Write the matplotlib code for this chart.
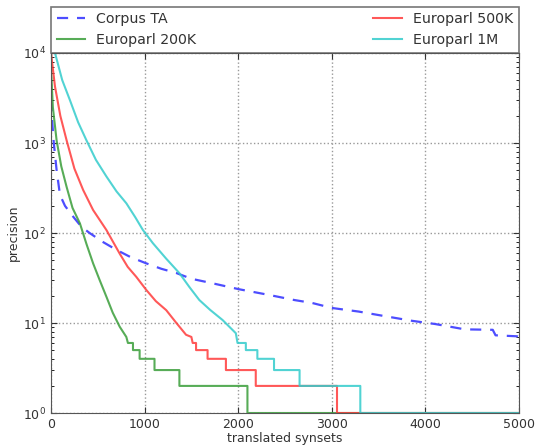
import numpy as np
import matplotlib
matplotlib.use('Agg')
import matplotlib.pyplot as plt

# Corpus TA: smooth decreasing curve
corpus_x = [0, 10, 30, 60, 96, 150, 237, 326, 415, 550, 699, 850, 1018, 1180, 1337,
            1500, 1700, 2011, 2330, 2600, 2790, 3000, 3287, 3550, 3851, 4103, 4422,
            4720, 4750, 5000]
corpus_y = [3000, 1900, 1000, 500, 265, 200, 152, 117, 99.6, 80, 65, 54, 46, 40, 36,
            31, 28, 23.7, 20.5, 18, 16.7, 14.7, 13.4, 12, 10.6, 9.75, 8.5,
            8.4, 7.3, 7.1]

# Europarl runs: smooth head, then integer step tail (start of each level, level)
ep200_x = [0, 3, 20, 60, 110, 167, 230, 309, 380, 450, 520, 592, 660, 734, 805]
ep200_y = [10000, 6000, 2500, 1070, 550, 325, 190, 128, 75, 46, 30, 19.6, 13, 9.1, 7.0]
ep200_steps = [822, 876, 947, 1106, 1372, 2099]
ep200_levels = [6, 5, 4, 3, 2, 1]

ep500_x = [0, 43, 100, 167, 250, 344, 450, 592, 734, 820, 911, 1018, 1120, 1231,
           1340, 1443, 1500]
ep500_y = [10000, 4230, 2000, 1070, 520, 300, 180, 108, 59, 42, 32.6, 23.3, 17.5, 13.9,
           10, 7.4, 7.0]
ep500_steps = [1514, 1550, 1673, 1869, 2188, 3056]
ep500_levels = [6, 5, 4, 3, 2, 1]

ep1m_x = [0, 43, 120, 202, 290, 379, 480, 592, 700, 805, 900, 982, 1089, 1230, 1372,
          1480, 1585, 1700, 1833, 1975]
ep1m_y = [10000, 10000, 5000, 3000, 1700, 1070, 650, 425, 290, 214, 150, 108, 77, 52,
          35.8, 25, 18, 14, 10.8, 7.7]
ep1m_steps = [1993, 2082, 2205, 2383, 2656, 3305]
ep1m_levels = [6, 5, 4, 3, 2, 1]

x_end = 5000


def with_steps(xs, ys, steps, levels):
    # append step corners: drop at each break, hold the level until the next one
    px, py = list(xs), list(ys)
    ends = steps[1:] + [x_end]
    for s, e, lv in zip(steps, ends, levels):
        px += [s, e]
        py += [lv, lv]
    return px, py


plt.rcParams['font.family'] = 'DejaVu Sans'
plt.rcParams['xtick.direction'] = 'in'
plt.rcParams['ytick.direction'] = 'in'
plt.rcParams['xtick.top'] = True
plt.rcParams['ytick.right'] = True

fig = plt.figure(figsize=(5.35, 4.45), dpi=100)
ax = fig.add_axes([0.0953, 0.0719, 0.8747, 0.8090])

ax.plot(corpus_x, corpus_y, '--', color='#4d4dff', lw=1.6, dashes=(5, 4), label='Corpus TA')
x, y = with_steps(ep200_x, ep200_y, ep200_steps, ep200_levels)
ax.plot(x, y, color='#3a9e3a', lw=1.5, alpha=0.85, label='Europarl 200K')
x, y = with_steps(ep500_x, ep500_y, ep500_steps, ep500_levels)
ax.plot(x, y, color='#ff3b3b', lw=1.5, alpha=0.85, label='Europarl 500K')
x, y = with_steps(ep1m_x, ep1m_y, ep1m_steps, ep1m_levels)
ax.plot(x, y, color='#33cccc', lw=1.5, alpha=0.85, label='Europarl 1M')

ax.set_yscale('log')
ax.set_xlim(0, 5000)
ax.set_ylim(1, 10000)
ax.set_xticks([0, 1000, 2000, 3000, 4000, 5000])
ax.grid(True, which='major', color='#999999', linestyle=':', linewidth=1)
ax.tick_params(which='major', length=4, labelsize=9, colors='#333333')
ax.tick_params(which='minor', length=2)
for sp in ax.spines.values():
    sp.set_color('#555555')

ax.set_xlabel('translated synsets', fontsize=9, color='#333333', labelpad=1)
ax.set_ylabel('precision', fontsize=9, color='#333333', labelpad=2)

leg = ax.legend(bbox_to_anchor=(0., 1.0, 1., 0.133), loc='lower left', ncol=2,
                mode='expand', borderaxespad=0., fontsize=10.2, fancybox=False,
                handlelength=2.0, frameon=True)
leg.get_frame().set_edgecolor('#555555')
leg.get_frame().set_linewidth(1.2)
for t in leg.get_texts():
    t.set_color('#333333')

fig.savefig('out.png', dpi=100)
